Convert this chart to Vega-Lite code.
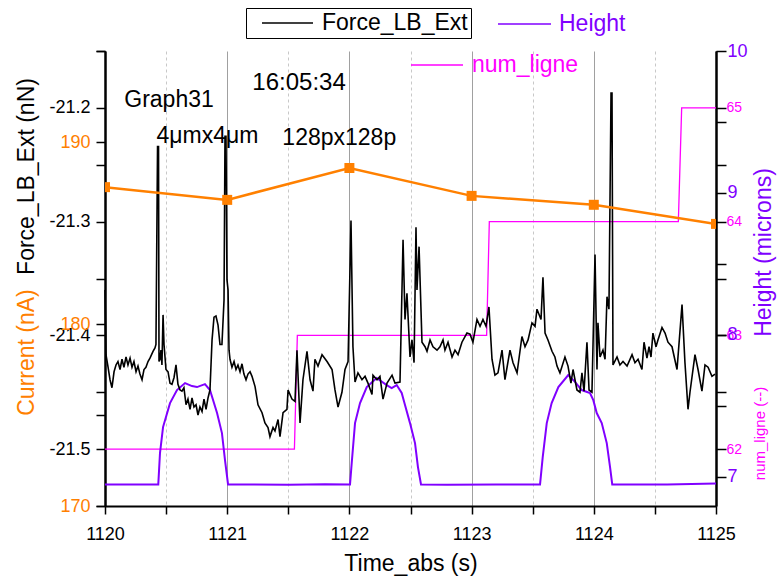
{
  "$schema": "https://vega.github.io/schema/vega-lite/v6.json",
  "width": 611,
  "height": 455,
  "autosize": {"type": "none"},
  "padding": {"left": 105, "top": 51, "right": 61, "bottom": 75},
  "config": {
    "font": "Liberation Sans",
    "view": {"stroke": null},
    "axis": {"titleFontWeight": "normal", "domainColor": "black", "domainWidth": 2, "tickColor": "black", "tickWidth": 1.5, "grid": false, "labelFlush": false}
  },
  "datasets": {
    "force": [
      {"t":1120.000,"f":-21.360},{"t":1120.008,"f":-21.417},{"t":1120.025,"f":-21.428},{"t":1120.041,"f":-21.439},{"t":1120.057,"f":-21.446},{"t":1120.074,"f":-21.432},{"t":1120.090,"f":-21.426},{"t":1120.106,"f":-21.423},{"t":1120.123,"f":-21.430},{"t":1120.139,"f":-21.421},{"t":1120.155,"f":-21.428},{"t":1120.172,"f":-21.419},{"t":1120.188,"f":-21.426},{"t":1120.205,"f":-21.420},{"t":1120.221,"f":-21.428},{"t":1120.237,"f":-21.423},{"t":1120.254,"f":-21.432},{"t":1120.270,"f":-21.427},{"t":1120.286,"f":-21.434},{"t":1120.303,"f":-21.439},{"t":1120.319,"f":-21.430},{"t":1120.335,"f":-21.428},{"t":1120.352,"f":-21.423},{"t":1120.368,"f":-21.420},{"t":1120.393,"f":-21.414},{"t":1120.409,"f":-21.411},{"t":1120.417,"f":-21.408},{"t":1120.430,"f":-21.234},{"t":1120.438,"f":-21.234},{"t":1120.442,"f":-21.423},{"t":1120.450,"f":-21.421},{"t":1120.458,"f":-21.413},{"t":1120.466,"f":-21.426},{"t":1120.475,"f":-21.382},{"t":1120.483,"f":-21.408},{"t":1120.499,"f":-21.430},{"t":1120.516,"f":-21.432},{"t":1120.532,"f":-21.442},{"t":1120.548,"f":-21.443},{"t":1120.565,"f":-21.437},{"t":1120.581,"f":-21.426},{"t":1120.597,"f":-21.443},{"t":1120.614,"f":-21.448},{"t":1120.630,"f":-21.449},{"t":1120.646,"f":-21.446},{"t":1120.663,"f":-21.461},{"t":1120.679,"f":-21.456},{"t":1120.696,"f":-21.465},{"t":1120.712,"f":-21.455},{"t":1120.728,"f":-21.463},{"t":1120.745,"f":-21.461},{"t":1120.761,"f":-21.470},{"t":1120.777,"f":-21.463},{"t":1120.794,"f":-21.467},{"t":1120.810,"f":-21.456},{"t":1120.827,"f":-21.465},{"t":1120.843,"f":-21.455},{"t":1120.859,"f":-21.448},{"t":1120.876,"f":-21.404},{"t":1120.892,"f":-21.384},{"t":1120.908,"f":-21.383},{"t":1120.925,"f":-21.391},{"t":1120.941,"f":-21.408},{"t":1120.957,"f":-21.408},{"t":1120.974,"f":-21.369},{"t":1120.982,"f":-21.225},{"t":1120.990,"f":-21.225},{"t":1120.998,"f":-21.351},{"t":1121.007,"f":-21.360},{"t":1121.015,"f":-21.413},{"t":1121.023,"f":-21.421},{"t":1121.039,"f":-21.428},{"t":1121.056,"f":-21.423},{"t":1121.072,"f":-21.430},{"t":1121.088,"f":-21.426},{"t":1121.105,"f":-21.432},{"t":1121.121,"f":-21.425},{"t":1121.137,"f":-21.434},{"t":1121.154,"f":-21.439},{"t":1121.170,"f":-21.434},{"t":1121.187,"f":-21.432},{"t":1121.203,"f":-21.436},{"t":1121.228,"f":-21.445},{"t":1121.252,"f":-21.461},{"t":1121.285,"f":-21.468},{"t":1121.309,"f":-21.477},{"t":1121.334,"f":-21.481},{"t":1121.350,"f":-21.489},{"t":1121.375,"f":-21.481},{"t":1121.391,"f":-21.484},{"t":1121.416,"f":-21.474},{"t":1121.432,"f":-21.489},{"t":1121.457,"f":-21.468},{"t":1121.489,"f":-21.465},{"t":1121.498,"f":-21.448},{"t":1121.530,"f":-21.456},{"t":1121.555,"f":-21.458},{"t":1121.571,"f":-21.413},{"t":1121.596,"f":-21.477},{"t":1121.620,"f":-21.439},{"t":1121.653,"f":-21.414},{"t":1121.678,"f":-21.439},{"t":1121.702,"f":-21.449},{"t":1121.718,"f":-21.421},{"t":1121.743,"f":-21.427},{"t":1121.776,"f":-21.417},{"t":1121.817,"f":-21.423},{"t":1121.858,"f":-21.430},{"t":1121.882,"f":-21.448},{"t":1121.907,"f":-21.463},{"t":1121.939,"f":-21.450},{"t":1121.964,"f":-21.430},{"t":1121.989,"f":-21.423},{"t":1122.013,"f":-21.299},{"t":1122.029,"f":-21.410},{"t":1122.046,"f":-21.441},{"t":1122.070,"f":-21.433},{"t":1122.103,"f":-21.439},{"t":1122.128,"f":-21.436},{"t":1122.152,"f":-21.442},{"t":1122.185,"f":-21.452},{"t":1122.193,"f":-21.435},{"t":1122.226,"f":-21.439},{"t":1122.250,"f":-21.436},{"t":1122.275,"f":-21.456},{"t":1122.308,"f":-21.442},{"t":1122.349,"f":-21.435},{"t":1122.373,"f":-21.442},{"t":1122.414,"f":-21.441},{"t":1122.439,"f":-21.316},{"t":1122.455,"f":-21.386},{"t":1122.471,"f":-21.363},{"t":1122.496,"f":-21.419},{"t":1122.512,"f":-21.404},{"t":1122.529,"f":-21.424},{"t":1122.545,"f":-21.305},{"t":1122.553,"f":-21.360},{"t":1122.570,"f":-21.322},{"t":1122.594,"f":-21.406},{"t":1122.619,"f":-21.410},{"t":1122.635,"f":-21.414},{"t":1122.660,"f":-21.404},{"t":1122.684,"f":-21.410},{"t":1122.717,"f":-21.413},{"t":1122.741,"f":-21.410},{"t":1122.766,"f":-21.404},{"t":1122.782,"f":-21.413},{"t":1122.807,"f":-21.406},{"t":1122.840,"f":-21.419},{"t":1122.864,"f":-21.413},{"t":1122.889,"f":-21.417},{"t":1122.921,"f":-21.406},{"t":1122.962,"f":-21.398},{"t":1122.987,"f":-21.399},{"t":1123.011,"f":-21.406},{"t":1123.044,"f":-21.386},{"t":1123.069,"f":-21.392},{"t":1123.093,"f":-21.386},{"t":1123.118,"f":-21.392},{"t":1123.142,"f":-21.375},{"t":1123.167,"f":-21.421},{"t":1123.191,"f":-21.435},{"t":1123.216,"f":-21.433},{"t":1123.249,"f":-21.413},{"t":1123.273,"f":-21.439},{"t":1123.314,"f":-21.413},{"t":1123.339,"f":-21.424},{"t":1123.372,"f":-21.433},{"t":1123.412,"f":-21.401},{"t":1123.437,"f":-21.410},{"t":1123.462,"f":-21.404},{"t":1123.494,"f":-21.389},{"t":1123.519,"f":-21.392},{"t":1123.535,"f":-21.377},{"t":1123.568,"f":-21.386},{"t":1123.584,"f":-21.349},{"t":1123.601,"f":-21.398},{"t":1123.625,"f":-21.404},{"t":1123.658,"f":-21.414},{"t":1123.682,"f":-21.419},{"t":1123.699,"f":-21.427},{"t":1123.723,"f":-21.433},{"t":1123.764,"f":-21.419},{"t":1123.789,"f":-21.427},{"t":1123.813,"f":-21.442},{"t":1123.830,"f":-21.430},{"t":1123.862,"f":-21.448},{"t":1123.887,"f":-21.450},{"t":1123.903,"f":-21.433},{"t":1123.920,"f":-21.449},{"t":1123.944,"f":-21.406},{"t":1123.961,"f":-21.448},{"t":1123.985,"f":-21.450},{"t":1124.010,"f":-21.329},{"t":1124.026,"f":-21.430},{"t":1124.034,"f":-21.389},{"t":1124.051,"f":-21.419},{"t":1124.075,"f":-21.413},{"t":1124.092,"f":-21.421},{"t":1124.108,"f":-21.366},{"t":1124.124,"f":-21.377},{"t":1124.141,"f":-21.187},{"t":1124.149,"f":-21.187},{"t":1124.157,"f":-21.426},{"t":1124.190,"f":-21.419},{"t":1124.214,"f":-21.426},{"t":1124.239,"f":-21.423},{"t":1124.272,"f":-21.427},{"t":1124.313,"f":-21.417},{"t":1124.337,"f":-21.424},{"t":1124.362,"f":-21.421},{"t":1124.394,"f":-21.430},{"t":1124.411,"f":-21.406},{"t":1124.435,"f":-21.420},{"t":1124.452,"f":-21.410},{"t":1124.468,"f":-21.419},{"t":1124.484,"f":-21.398},{"t":1124.509,"f":-21.410},{"t":1124.525,"f":-21.404},{"t":1124.558,"f":-21.393},{"t":1124.583,"f":-21.398},{"t":1124.607,"f":-21.406},{"t":1124.640,"f":-21.410},{"t":1124.681,"f":-21.430},{"t":1124.722,"f":-21.373},{"t":1124.746,"f":-21.424},{"t":1124.771,"f":-21.465},{"t":1124.787,"f":-21.450},{"t":1124.828,"f":-21.417},{"t":1124.853,"f":-21.430},{"t":1124.885,"f":-21.449},{"t":1124.910,"f":-21.426},{"t":1124.935,"f":-21.428},{"t":1124.967,"f":-21.436},{"t":1124.992,"f":-21.434}
    ],
    "height": [
      {"t":1120.000,"h":6.946},{"t":1120.436,"h":6.946},{"t":1120.450,"h":7.167},{"t":1120.475,"h":7.350},{"t":1120.532,"h":7.519},{"t":1120.589,"h":7.611},{"t":1120.655,"h":7.660},{"t":1120.712,"h":7.639},{"t":1120.753,"h":7.632},{"t":1120.818,"h":7.653},{"t":1120.859,"h":7.611},{"t":1120.917,"h":7.449},{"t":1120.957,"h":7.308},{"t":1120.982,"h":7.118},{"t":1121.007,"h":6.946},{"t":1121.500,"h":6.944},{"t":1121.800,"h":6.948},{"t":1122.005,"h":6.946},{"t":1122.019,"h":7.097},{"t":1122.046,"h":7.378},{"t":1122.087,"h":7.519},{"t":1122.142,"h":7.632},{"t":1122.223,"h":7.696},{"t":1122.305,"h":7.646},{"t":1122.346,"h":7.625},{"t":1122.387,"h":7.646},{"t":1122.428,"h":7.590},{"t":1122.455,"h":7.505},{"t":1122.496,"h":7.378},{"t":1122.537,"h":7.237},{"t":1122.561,"h":7.068},{"t":1122.586,"h":6.946},{"t":1122.800,"h":6.943},{"t":1123.200,"h":6.946},{"t":1123.560,"h":6.946},{"t":1123.582,"h":7.139},{"t":1123.615,"h":7.378},{"t":1123.655,"h":7.519},{"t":1123.710,"h":7.632},{"t":1123.791,"h":7.717},{"t":1123.846,"h":7.669},{"t":1123.901,"h":7.611},{"t":1123.969,"h":7.590},{"t":1123.996,"h":7.540},{"t":1124.024,"h":7.449},{"t":1124.065,"h":7.378},{"t":1124.106,"h":7.237},{"t":1124.133,"h":7.068},{"t":1124.151,"h":6.946},{"t":1124.600,"h":6.946},{"t":1125.000,"h":6.952}
    ],
    "num": [
      {"t":1120.000,"n":62},{"t":1121.550,"n":62},{"t":1121.574,"n":63},{"t":1123.123,"n":63},{"t":1123.145,"n":64},{"t":1124.692,"n":64},{"t":1124.719,"n":65},{"t":1125.000,"n":65}
    ],
    "current": [
      {"t":1120,"c":187.52},{"t":1121,"c":186.82},{"t":1122,"c":188.57},{"t":1123,"c":187.04},{"t":1124,"c":186.55},{"t":1125,"c":185.5}
    ],
    "notes": [
      {"t":1120.524,"f":-21.1991,"label":"Graph31"},
      {"t":1120.839,"f":-21.2312,"label":"4μmx4μm"},
      {"t":1121.917,"f":-21.2327,"label":"128px128p"}
    ],
    "stamp": [
      {"t":1121.588,"f":-21.1845,"label":"16:05:34"}
    ]
  },
  "encoding": {
    "x": {
      "field": "t", "type": "quantitative",
      "scale": {"domain": [1120, 1125], "nice": false, "zero": false},
      "axis": {
        "title": "Time_abs (s)", "titleFontSize": 23, "titleColor": "black", "titleY": 46, "titleBaseline": "top",
        "values": [1120, 1120.5, 1121, 1121.5, 1122, 1122.5, 1123, 1123.5, 1124, 1124.5, 1125],
        "labelExpr": "datum.value % 1 === 0 ? '' + datum.value : ''",
        "labelFontSize": 18, "labelColor": "black", "tickSize": 8, "labelPadding": 11, "labelFlush": false, "labelOverlap": false,
        "grid": true,
        "gridColor": {"condition": {"test": "datum.value % 1 === 0", "value": "#a0a0a0"}, "value": "#c8c8c8"},
        "gridDash": {"condition": {"test": "datum.value % 1 === 0", "value": []}, "value": [3, 3]},
        "gridWidth": 1,
        "encode": {"ticks": {"update": {"y2": {"signal": "datum.value % 1 === 0 ? 8 : 5"}}}}
      }
    }
  },
  "layer": [
    {
      "data": {"name": "num"},
      "mark": {"type": "line", "strokeWidth": 1.3},
      "encoding": {
        "y": {
          "field": "n", "type": "quantitative",
          "scale": {"domain": [61.5, 65.5], "nice": false, "zero": false},
          "axis": {
            "orient": "right", "title": "num_ligne (--)", "titleFontSize": 15, "titleColor": "#FF00FF",
            "titleAngle": 270, "titleBaseline": "top", "titleAlign": "center", "titleX": 36, "titleY": 382,
            "values": [62, 62.5, 63, 63.5, 64, 64.5, 65],
            "labelExpr": "datum.value % 1 === 0 ? '' + datum.value : ''",
            "labelFontSize": 14, "labelColor": "#FF00FF", "tickSize": 10, "labelPadding": 0, "labelFlush": false, "labelOverlap": false,
            "encode": {"ticks": {"update": {"x2": {"signal": "datum.value % 1 === 0 ? -10 : -5"}}}}
          }
        },
        "color": {
          "datum": "num_ligne", "type": "nominal",
          "scale": {"range": ["#FF00FF"]},
          "legend": {"orient": "none", "legendX": 305, "legendY": 2, "title": null, "symbolType": "stroke", "symbolSize": 2704, "symbolStrokeWidth": 1.5, "clipHeight": 24, "labelFontSize": 23, "labelColor": "#FF00FF", "labelOffset": 8, "padding": 0, "labelLimit": 400}
        }
      }
    },
    {
      "data": {"name": "height"},
      "mark": {"type": "line", "strokeWidth": 2},
      "encoding": {
        "y": {
          "field": "h", "type": "quantitative",
          "scale": {"domain": [6.794, 10], "nice": false, "zero": false},
          "axis": {
            "orient": "right", "title": "Height (microns)", "titleFontSize": 23, "titleColor": "#8000FF",
            "titleAngle": 270, "titleBaseline": "top", "titleAlign": "center", "titleX": 36, "titleY": 201,
            "values": [7, 7.5, 8, 8.5, 9, 9.5, 10],
            "labelExpr": "datum.value % 1 === 0 ? '' + datum.value : ''",
            "labelFontSize": 18, "labelColor": "#8000FF", "tickSize": 10, "labelPadding": 1, "labelFlush": false, "labelOverlap": false,
            "encode": {"ticks": {"update": {"x2": {"signal": "datum.value % 1 === 0 ? -10 : -5"}}}}
          }
        },
        "color": {
          "datum": "Height", "type": "nominal",
          "scale": {"range": ["#8000FF"]},
          "legend": {"orient": "none", "legendX": 392, "legendY": -39, "title": null, "symbolType": "stroke", "symbolSize": 2809, "symbolStrokeWidth": 1.5, "clipHeight": 24, "labelFontSize": 23, "labelColor": "#8000FF", "labelOffset": 7, "padding": 0, "labelLimit": 400}
        }
      }
    },
    {
      "data": {"name": "force"},
      "mark": {"type": "line", "strokeWidth": 1.6},
      "encoding": {
        "y": {
          "field": "f", "type": "quantitative",
          "scale": {"domain": [-21.55, -21.15], "nice": false, "zero": false},
          "axis": {
            "orient": "left", "title": "Force_LB_Ext (nN)", "titleFontSize": 23, "titleColor": "black",
            "titleAngle": 270, "titleBaseline": "bottom", "titleAlign": "center", "titleX": -67, "titleY": 125,
            "values": [-21.55, -21.5, -21.45, -21.4, -21.35, -21.3, -21.25, -21.2, -21.15],
            "labelExpr": "abs(datum.value * 10 - round(datum.value * 10)) < 0.01 ? '' + round(datum.value * 10) / 10 : ''",
            "labelFontSize": 18, "labelColor": "black", "tickSize": 9, "labelPadding": 6, "labelFlush": false, "labelOverlap": false,
            "encode": {"ticks": {"update": {"x2": {"signal": "abs(datum.value * 10 - round(datum.value * 10)) < 0.01 ? -9 : -5"}}}}
          }
        },
        "color": {
          "datum": "Force_LB_Ext", "type": "nominal",
          "scale": {"range": ["black"]},
          "legend": {"orient": "none", "legendX": 141, "legendY": -43, "title": null, "symbolType": "stroke", "symbolSize": 2601, "symbolStrokeWidth": 1.5, "symbolOffset": 12, "clipHeight": 24, "labelFontSize": 23, "labelColor": "black", "labelOffset": 8, "padding": 3, "strokeColor": "black", "fillColor": "white", "labelLimit": 400}
        }
      }
    },
    {
      "data": {"name": "notes"},
      "mark": {"type": "text", "fontSize": 23, "align": "center", "baseline": "alphabetic", "color": "black"},
      "encoding": {
        "y": {"field": "f", "type": "quantitative", "scale": {"domain": [-21.55, -21.15], "nice": false, "zero": false}, "axis": null},
        "text": {"field": "label"}
      }
    },
    {
      "data": {"name": "stamp"},
      "mark": {"type": "text", "fontSize": 24, "align": "center", "baseline": "alphabetic", "color": "black"},
      "encoding": {
        "y": {"field": "f", "type": "quantitative", "scale": {"domain": [-21.55, -21.15], "nice": false, "zero": false}, "axis": null},
        "text": {"field": "label"}
      }
    },
    {
      "data": {"name": "current"},
      "mark": {"type": "line", "color": "#FF8000", "strokeWidth": 2.5, "clip": true, "point": {"shape": "square", "size": 100, "filled": true, "color": "#FF8000", "clip": true}},
      "encoding": {
        "y": {
          "field": "c", "type": "quantitative",
          "scale": {"domain": [170, 195], "nice": false, "zero": false},
          "axis": {
            "orient": "left", "title": "Current (nA)", "titleFontSize": 23, "titleColor": "#FF8000",
            "titleAngle": 270, "titleBaseline": "bottom", "titleAlign": "center", "titleX": -67, "titleY": 301,
            "values": [170, 175, 180, 190, 195],
            "labelExpr": "datum.value % 10 === 0 ? '' + datum.value : ''",
            "labelFontSize": 18, "labelColor": "#FF8000", "tickSize": 9, "labelPadding": 6, "labelFlush": false, "labelOverlap": false,
            "encode": {"ticks": {"update": {"x2": {"signal": "datum.value % 10 === 0 ? -9 : -5"}}}}
          }
        }
      }
    }
  ],
  "resolve": {"scale": {"y": "independent", "color": "independent"}, "legend": {"color": "independent"}}
}
